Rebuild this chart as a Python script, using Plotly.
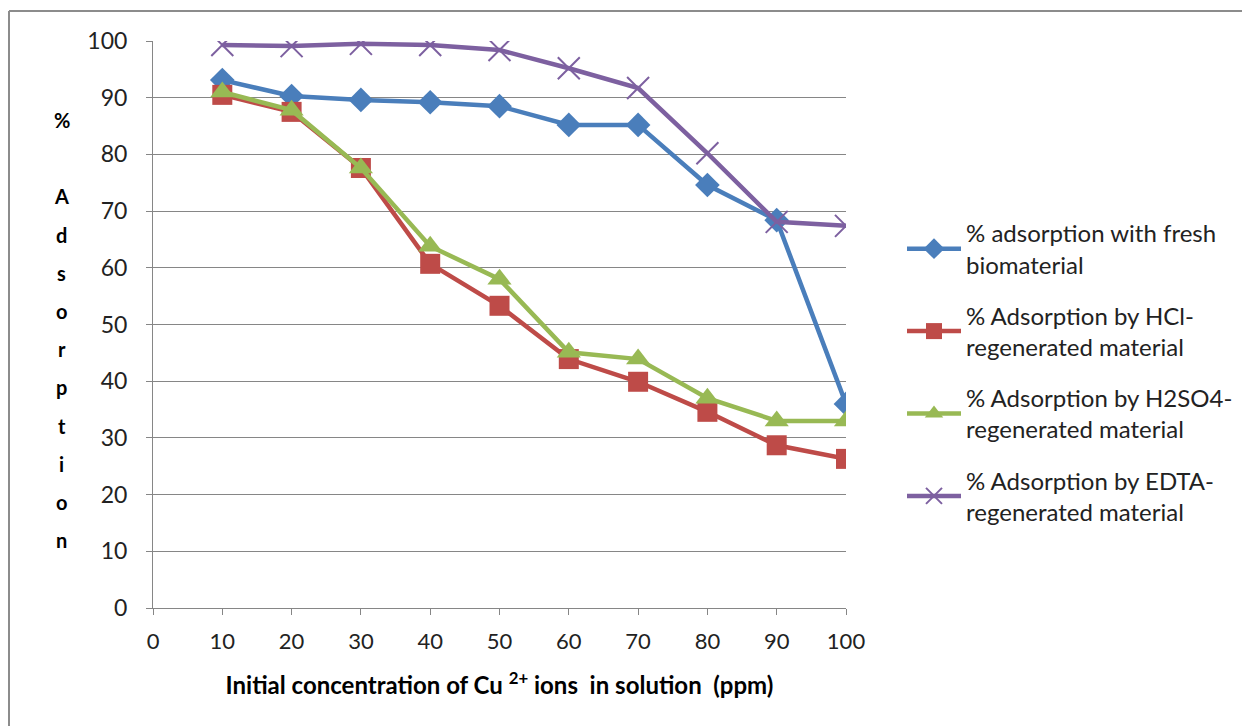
import plotly.graph_objects as go

# initial Cu2+ concentration (ppm)
conc = [10, 20, 30, 40, 50, 60, 70, 80, 90, 100]

# % adsorption
fresh = [93.1, 90.3, 89.6, 89.2, 88.5, 85.2, 85.2, 74.6, 68.4, 36.0]
hcl = [90.5, 87.5, 77.6, 60.7, 53.3, 43.9, 39.9, 34.6, 28.7, 26.3]
h2so4 = [91.0, 87.8, 77.6, 63.8, 58.0, 45.1, 43.9, 37.0, 33.0, 33.0]
edta = [99.3, 99.1, 99.5, 99.3, 98.4, 95.2, 91.7, 80.2, 68.1, 67.4]

names = [
    "% adsorption with fresh<br>biomaterial",
    "% Adsorption by HCl-<br>regenerated material",
    "% Adsorption by H2SO4-<br>regenerated material",
    "% Adsorption by EDTA-<br>regenerated material",
]
colors = ["#4A7EBB", "#BE4B48", "#98B954", "#7D60A0"]
symbols = ["diamond", "square", "triangle-up", "x-thin"]
sizes = [19, 20, 21, 22]

ytitle_letters = ["%", "", "A", "d", "s", "o", "r", "p", "t", "i", "o", "n"]

FONT = "Lato, 'Open Sans', sans-serif"

# plot area in page pixels (page body has an 8px offset)
L, T, W, H = 145, 33, 693, 567

fig = go.Figure()

for i, ys in enumerate([fresh, hcl, h2so4, edta]):
    marker = dict(symbol=symbols[i], size=sizes[i], color=colors[i])
    if symbols[i] == "x-thin":
        marker["line"] = dict(color=colors[i], width=2)
    fig.add_trace(go.Scatter(
        x=conc, y=ys, mode="lines+markers", name=names[i],
        line=dict(color=colors[i], width=4.5),
        marker=marker, legendgroup=str(i),
    ))

# stacked letters for the y title
annots = []
for k, ch in enumerate(ytitle_letters):
    if not ch:
        continue
    annots.append(dict(
        text="<b>%s</b>" % ch, x=(54 - L) / W, y=1 - (112 + 38.2 * k - T) / H,
        xref="paper", yref="paper", showarrow=False,
        font=dict(family=FONT, size=20, color="#000"),
        xanchor="center", yanchor="middle",
    ))

border = dict(color="#8C8C8C", width=2)
fig.update_layout(
    width=1250, height=726,
    paper_bgcolor="white", plot_bgcolor="white",
    margin=dict(l=L, r=1250 - L - W, t=T, b=726 - T - H),
    font=dict(family=FONT, size=22, color="#222"),
    showlegend=True,
    legend=dict(
        x=(894 - L) / W, y=1 - (203 - T) / H, xanchor="left", yanchor="top",
        font=dict(family=FONT, size=24, color="#222"),
        traceorder="grouped", tracegroupgap=17,
        itemwidth=54,
    ),
    annotations=annots,
    shapes=[
        dict(type="line", xref="paper", yref="paper",
             x0=(1 - L) / W, x1=2, y0=1 + (T - 3) / H, y1=1 + (T - 3) / H, line=border),
        dict(type="line", xref="paper", yref="paper",
             x0=(1 - L) / W, x1=(1 - L) / W, y0=1 + (T - 3) / H, y1=-0.4, line=border),
    ],
)

fig.update_xaxes(
    range=[0, 100], dtick=10, tick0=0,
    showgrid=False, zeroline=False,
    showline=True, linecolor="#868686", linewidth=1,
    ticks="outside", ticklen=6, tickcolor="#868686",
    ticklabelstandoff=8,
    tickfont=dict(size=22, color="#222"),
    title=dict(
        text="<b>Initial concentration of Cu <sup>2+</sup> ions  in solution  (ppm)</b>",
        font=dict(size=24, color="#000"), standoff=23,
    ),
)
fig.update_yaxes(
    range=[0, 100], dtick=10,
    showgrid=True, gridcolor="#868686", gridwidth=1,
    zeroline=False,
    showline=True, linecolor="#868686", linewidth=1,
    ticks="outside", ticklen=6, tickcolor="#868686",
    ticklabelstandoff=14,
    tickfont=dict(size=23, color="#222"),
)

fig.write_html("out.html")
